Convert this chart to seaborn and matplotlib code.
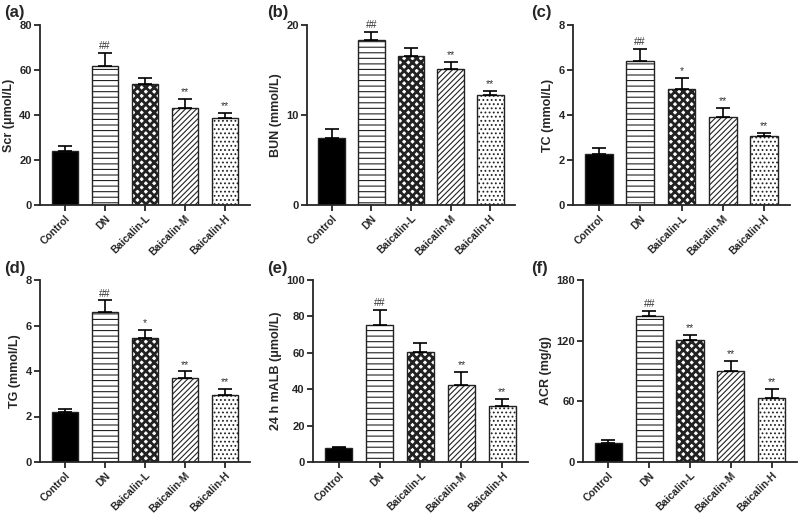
import matplotlib
matplotlib.use("Agg")
import matplotlib.pyplot as plt
import seaborn as sns
import pandas as pd

# groups shared by every panel
groups = ["Control", "DN", "Baicalin-L", "Baicalin-M", "Baicalin-H"]

# mean / SEM
scr_mean = [24.2, 62.0, 53.8, 43.3, 38.5]
scr_sem = [2.0, 5.5, 2.5, 3.8, 2.6]
bun_mean = [7.5, 18.3, 16.6, 15.1, 12.2]
bun_sem = [1.0, 0.9, 0.8, 0.8, 0.45]
tc_mean = [2.25, 6.4, 5.15, 3.9, 3.05]
tc_sem = [0.3, 0.55, 0.5, 0.4, 0.15]
tg_mean = [2.2, 6.6, 5.45, 3.7, 2.95]
tg_sem = [0.15, 0.5, 0.35, 0.28, 0.28]
malb_mean = [7.5, 75.5, 60.2, 42.5, 30.5]
malb_sem = [1.0, 8.0, 5.3, 6.8, 4.2]
acr_mean = [19.0, 144.0, 121.0, 90.0, 63.0]
acr_sem = [3.0, 5.5, 5.0, 10.0, 9.5]

scr_marks = ["", "##", "", "**", "**"]
bun_marks = ["", "##", "", "**", "**"]
tc_marks = ["", "##", "*", "**", "**"]
tg_marks = ["", "##", "*", "**", "**"]
malb_marks = ["", "##", "", "**", "**"]
acr_marks = ["", "##", "**", "**", "**"]

sns.set_style("ticks")
plt.rcParams["font.family"] = ["Liberation Sans", "DejaVu Sans"]
plt.rcParams["hatch.linewidth"] = 0.8
plt.rcParams["hatch.color"] = "#222222"

hatches = [None, "---", "xxxx", "//////", "...."]
hatch_lw = [0.8, 0.8, 2.0, 0.8, 0.8]
fills = ["black", "white", "white", "white", "white"]

panels = [
    ("(a)", "Scr (\u03bcmol/L)", scr_mean, scr_sem, scr_marks, [0, 20, 40, 60, 80], (40, 205, 210, 180)),
    ("(b)", "BUN (mmol/L)", bun_mean, bun_sem, bun_marks, [0, 10, 20], (307, 205, 208, 180)),
    ("(c)", "TC (mmol/L)", tc_mean, tc_sem, tc_marks, [0, 2, 4, 6, 8], (573, 205, 217, 180)),
    ("(d)", "TG (mmol/L)", tg_mean, tg_sem, tg_marks, [0, 2, 4, 6, 8], (40, 462, 210, 182)),
    ("(e)", "24 h mALB (\u03bcmol/L)", malb_mean, malb_sem, malb_marks, [0, 20, 40, 60, 80, 100], (313, 462, 215, 182)),
    ("(f)", "ACR (mg/g)", acr_mean, acr_sem, acr_marks, [0, 60, 120, 180], (583, 462, 214, 182)),
]
label_pos = [(4, 12), (267, 12), (531, 12), (4, 268), (267, 268), (531, 268)]

W, H = 800, 514
fig = plt.figure(figsize=(8.0, 5.14), dpi=100)

for (tag, ylab, mean, sem, marks, ticks, box), (lx, ly) in zip(panels, label_pos):
    x0, yb, w, h = box
    ax = fig.add_axes([x0 / W, 1 - yb / H, w / W, h / H])
    df = pd.DataFrame({"group": groups, "value": mean})
    sns.barplot(data=df, x="group", y="value", hue="group", palette=fills,
                legend=False, errorbar=None, width=0.67, ax=ax,
                edgecolor="#222222", linewidth=1.0)
    for bar, hatch, hlw in zip(ax.patches, hatches, hatch_lw):
        if hatch:
            bar.set_hatch(hatch)
            try:
                bar.set_hatch_linewidth(hlw)
            except AttributeError:
                pass
    # upper-only error bars, GraphPad style
    ax.errorbar(range(len(groups)), mean, yerr=[[0] * len(sem), sem],
                fmt="none", ecolor="black", elinewidth=1.2, capsize=5,
                capthick=1.2, zorder=5)
    top = ticks[-1]
    for i, (m, s, mk) in enumerate(zip(mean, sem, marks)):
        if mk:
            ax.text(i, m + s + top * 0.01, mk, ha="center", va="bottom",
                    fontsize=7.5, color="#333333")
    ax.set_ylim(0, top)
    ax.set_yticks(ticks)
    ax.set_xlim(-0.625, 4.625)
    ax.set_xlabel("")
    ax.set_ylabel(ylab, fontsize=9, fontweight="bold", labelpad=3)
    sns.despine(ax=ax)
    for sp in ["left", "bottom"]:
        ax.spines[sp].set_linewidth(1.3)
    ax.tick_params(width=1.3, length=4, labelsize=8, pad=2)
    for lbl in ax.get_yticklabels():
        lbl.set_fontweight("bold")
    ax.set_xticks(range(len(groups)))
    ax.set_xticklabels(groups, rotation=45, ha="right", rotation_mode="anchor",
                       fontweight="bold", fontsize=7.5)
    fig.text(lx / W, 1 - ly / H, tag, fontsize=12, fontweight="bold",
             ha="left", va="center")

fig.savefig("out.png", dpi=100)
